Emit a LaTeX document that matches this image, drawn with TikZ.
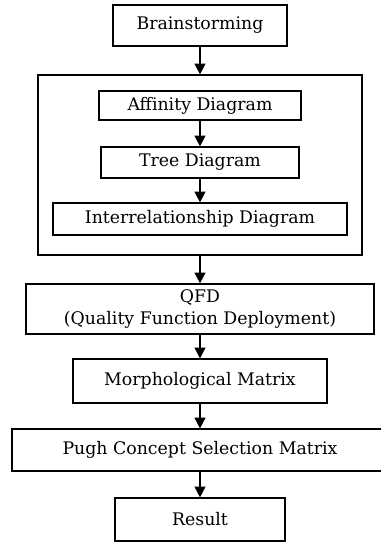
\documentclass[tikz,border=0pt]{standalone}
\usepackage{fontspec}
\setmainfont{DejaVu Serif}
\usetikzlibrary{arrows.meta}
\tikzset{
  stage/.style={draw, line width=0.9pt, inner sep=0pt, align=center,
    font=\fontsize{13}{16}\selectfont},
  flow/.style={line width=1.2pt, -{Triangle[width=8pt,length=8pt]}}
}
\begin{document}
\begin{tikzpicture}[x=0.75pt,y=-0.75pt]
  \useasboundingbox (0,0) rectangle (380,544);
  \def\px{0.75pt}
  \def\midx{200}
  % group round the three diagrams
  \node[stage, minimum width=324*\px, minimum height=180*\px] (group) at (\midx,165) {};
  \foreach \name/\y/\w/\h/\txt in {
      brain/25.5/174/41/{Brainstorming},
      aff/105.5/202/29/{Affinity Diagram},
      tree/162.5/198/31/{Tree Diagram},
      inter/219/294/32/{Interrelationship Diagram},
      qfd/309/348/50/{QFD\\(Quality Function Deployment)},
      morph/381/254/44/{Morphological Matrix},
      pugh/450/376/42/{Pugh Concept Selection Matrix},
      result/519.5/170/43/{Result}} {
    \node[stage, minimum width=\w*\px, minimum height=\h*\px] (\name) at (\midx,\y) {\txt};
  }
  \foreach \a/\b in {brain/group, aff/tree, tree/inter, group/qfd, qfd/morph, morph/pugh, pugh/result}
    \draw[flow] (\a) -- (\b);
\end{tikzpicture}
\end{document}
